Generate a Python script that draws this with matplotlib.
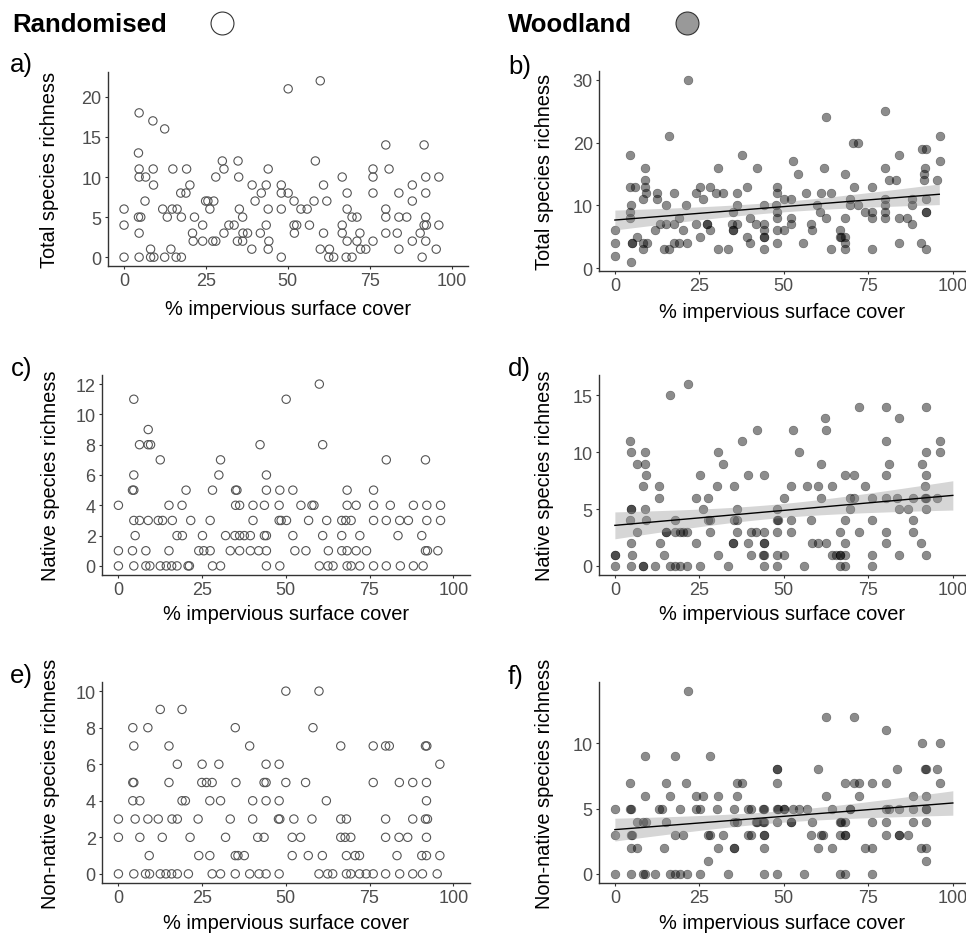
import numpy as np
import matplotlib
matplotlib.use("Agg")
import matplotlib.pyplot as plt
from matplotlib.lines import Line2D

plt.rcParams['font.family'] = ['Liberation Sans', 'DejaVu Sans']

# (x = % impervious surface cover, y = richness)
total_rand = [(0,6),(0,4),(0,0),(4.6,18),(4.4,13),(4.6,11),(4.6,10),(6.6,10),(4.4,5),(5.1,5),(4.6,3),(4.6,0),(6.4,7),(8.8,17),(8.9,11),(9,9),(8.1,1),(8.1,0),(9.1,0),(12.4,16),(11.8,6),(13.2,5),(12.4,0),(14.3,1),(14.9,11),(14.7,6),(16.2,6),(15.9,0),(17.5,0),(17.5,5),(17.3,8),(19.1,11),(18.9,8),(20.1,9),(21.5,5),(20.9,3),(21.1,2),(24,4),(24,2),(24.9,7),(25.6,7),(26.2,6),(27.4,7),(28,10),(27.1,2),(28,2),(30,12),(30.5,11),(30.5,3),(32,4),(33.6,4),(34.8,12),(35,10),(35.2,6),(36.2,5),(36.3,3),(37.7,3),(34.6,2),(36.2,2),(39.1,9),(40,7),(39,1),(41.9,8),(41.6,3),(43.4,9),(43.4,4),(44,11),(44,6),(44.2,2),(44,1),(48,9),(48,8),(50.1,8),(48,6),(48,0),(50.1,21),(51.9,7),(51.9,4),(52.7,4),(52,3),(54,6),(55.9,6),(56.6,4),(58,7),(58.4,12),(59.9,22),(59.9,1),(60.9,9),(60.9,3),(61.9,7),(62.7,1),(62.5,0),(64,0),(66.6,10),(66.6,4),(66.6,3),(68.1,8),(68.1,6),(68.1,2),(67.8,0),(69.6,0),(69.6,5),(71.1,5),(71.1,2),(72,3),(72.2,1),(73.8,1),(76,11),(76,10),(76,8),(76,2),(79.9,14),(79.9,6),(79.9,5),(79.9,3),(80.9,11),(83.9,8),(83.9,5),(86.3,5),(83.4,3),(83.9,1),(88,9),(88,7),(88,2),(90.4,3),(91,0),(91.6,14),(92.1,10),(92.1,8),(92.1,5),(91.6,4),(92.3,4),(92.1,2),(95.3,1),(96.1,10),(96.1,4)]

total_wood = [(0,6),(0,4),(0,2),(4.4,18),(4.6,13),(6.1,13),(4.8,10),(4.4,9),(4.6,8),(5,4),(5,4),(4.8,1),(6.4,5),(8.9,16),(8.9,14),(8.9,13),(9.2,12),(8.2,11),(8.2,3),(9.4,4),(8.4,4),(12.6,12),(12.6,11),(11.9,6),(13.4,7),(15,10),(16.1,21),(14.5,3),(16.1,3),(15.1,7),(17.6,12),(17.6,4),(19.1,4),(19.1,8),(20.1,6),(17.6,7),(21,10),(21.6,30),(21.2,4),(23.9,12),(25.1,13),(26.1,11),(23.9,7),(25.1,5),(28,13),(27.4,7),(27.4,7),(28,6),(30.5,16),(29.9,12),(31.9,12),(30.5,3),(33.4,3),(36.1,12),(36.1,10),(35.1,9),(34.8,7),(36.1,7),(35.1,6),(35.1,6),(37.6,18),(39.2,13),(40.1,8),(39.2,5),(40.1,4),(42.1,16),(41.7,7),(44.1,10),(44.1,7),(44.1,6),(44.1,5),(44.1,5),(44.1,3),(48,13),(48,12),(47.8,10),(48,9),(48,8),(48,6),(48,4),(50,11),(52,11),(52,8),(52,7),(50,6),(52.6,17),(54.3,15),(56.7,12),(55.8,4),(57.9,7),(58.2,6),(59.9,10),(60.6,9),(60.9,12),(61.9,16),(62.4,24),(62.4,8),(63.9,12),(63.9,3),(66.5,6),(66.5,5),(67,5),(68,15),(68,8),(68,5),(68,4),(68,3),(69.5,11),(69.5,10),(70.7,13),(70.5,20),(71.9,20),(71.9,10),(73.9,9),(76,13),(76,9),(76,8),(76,3),(80,25),(80,16),(80,11),(80,10),(80,9),(80,8),(81,14),(83.3,14),(84,18),(84,8),(84,4),(86.5,8),(88,7),(88,11),(88,10),(90.5,4),(90.8,19),(92.1,19),(91.9,16),(91.6,15),(91.6,14),(92.1,11),(92.1,9),(92.1,9),(92.1,3),(95.3,14),(96.1,21),(96.1,17)]

native_rand = [(0,4),(0,1),(0,0),(4.6,11),(4.6,6),(4.2,5),(4.6,5),(4.6,3),(6.3,3),(5,2),(4.2,1),(4.6,0),(6.3,8),(8.9,9),(8.9,8),(9.6,8),(8.9,3),(8.2,1),(8.2,0),(9.4,0),(12.5,7),(11.9,3),(13.2,3),(12.5,0),(15.1,4),(16.1,3),(15.1,1),(14.3,0),(15.9,0),(17.5,0),(17.5,2),(19.1,2),(19,4),(20.2,5),(21.6,3),(20.8,0),(21.2,0),(25.1,2),(24,1),(25.5,1),(27.4,1),(27.4,3),(28.1,5),(28.1,0),(30.5,0),(30,6),(30.5,7),(32,2),(33.4,1),(35,5),(35.4,5),(35,4),(36.2,4),(34.8,2),(36.2,2),(37.6,2),(39.4,2),(36.2,1),(40.2,4),(40.2,3),(39.4,1),(41.9,1),(42.3,8),(43.6,4),(43.6,2),(44.2,2),(44.2,1),(44.2,6),(44.2,5),(44.2,0),(48.2,5),(48,4),(48,3),(48.6,3),(50.2,3),(48.2,0),(50.1,11),(52.1,5),(52.1,2),(52.7,1),(54.5,4),(56,1),(56.8,3),(57.8,4),(58.4,4),(60,12),(61,8),(61,2),(62.2,3),(62.7,1),(60,0),(62.6,0),(64.1,0),(66.7,3),(67.9,3),(69.5,3),(66.7,2),(66.7,1),(68.3,1),(68.3,5),(68.3,4),(71,4),(71,1),(68.3,0),(69.5,0),(72.1,0),(72.1,2),(74.1,1),(76.2,5),(76.2,4),(76.2,3),(76.2,0),(80,7),(80,3),(80,0),(81.2,4),(83.5,2),(84,3),(86.6,3),(84.2,0),(88.1,4),(88.1,0),(91,0),(90.6,2),(91.7,7),(92.1,4),(92.1,3),(91.7,1),(92.3,1),(95.4,1),(96.2,4),(96.2,3)]

native_wood = [(0,0),(0,1),(0,1),(4.4,11),(4.8,10),(4.8,5),(4.8,5),(4.4,4),(4.8,2),(5.2,1),(4.8,0),(6.5,9),(6.5,3),(8.8,10),(8.8,9),(9.2,8),(8.2,7),(8.8,5),(9.2,4),(8.2,0),(8.2,0),(11.9,0),(13.2,7),(13.2,6),(13.4,2),(14.5,1),(15.1,3),(15.1,3),(16.2,15),(16.2,0),(17.7,0),(19.2,0),(21.3,0),(17.7,4),(17.7,3),(19.2,3),(20.2,3),(21.3,3),(21.6,16),(24,6),(24,2),(25.2,8),(25.2,0),(26.2,5),(27.5,6),(27.5,4),(28.1,4),(28.1,3),(30.6,10),(30.1,7),(32.1,9),(30.6,1),(33.5,0),(35.2,7),(36.2,5),(35.2,4),(36.2,4),(36.2,3),(35,2),(35,2),(37.7,11),(39.3,8),(40.2,3),(41.8,3),(39.3,2),(40.2,1),(42.2,12),(44.2,8),(44.2,3),(44.2,2),(44.2,2),(43.7,1),(44.2,1),(44.2,0),(47.9,5),(47.9,4),(48.2,4),(47.9,3),(47.9,1),(50.1,1),(47.9,0),(50.1,6),(52.1,7),(52.1,4),(52.1,3),(52.7,12),(54.4,10),(56,0),(56.9,7),(58.1,4),(58.4,2),(60.1,2),(62.6,2),(60.1,7),(61.1,9),(61.1,6),(62.2,13),(62.6,12),(64.2,7),(64.2,1),(65.5,1),(66.7,1),(66.7,1),(66.7,3),(66.7,0),(68.2,0),(68.2,8),(68.2,4),(68.2,2),(68.2,1),(69.7,6),(70.9,6),(69.7,5),(70.9,8),(72.1,14),(72.1,3),(74.1,7),(76.2,6),(76.2,4),(76.2,1),(76.2,0),(80.1,14),(80.1,11),(80.1,8),(80.1,6),(80.1,3),(80.1,2),(81.1,9),(83.4,6),(84.1,13),(84.1,5),(84.1,1),(86.6,5),(88.1,6),(88.1,4),(88.1,3),(90.6,2),(90.8,9),(92.2,14),(92.2,10),(92.2,8),(91.7,7),(92.2,6),(91.7,6),(92.2,5),(92.2,1),(95.3,6),(96.1,11),(96.1,10)]

nonnative_rand = [(0,3),(0,2),(0,0),(4.3,8),(4.6,7),(4.3,5),(4.6,5),(4.3,4),(6.4,4),(5,3),(6.4,2),(4.6,0),(8.8,8),(8.8,3),(9.2,1),(8.1,0),(9.3,0),(12.5,9),(11.9,3),(13.1,2),(12.5,0),(15.1,7),(15.1,5),(16,3),(17.6,3),(17.6,6),(14.2,0),(15.9,0),(17.6,0),(19,9),(19,4),(20,4),(21.4,2),(20.9,0),(23.8,3),(24,1),(25,6),(24.9,5),(26.3,5),(28,5),(27.3,4),(27.3,1),(28,0),(30.5,0),(30,6),(30.5,4),(32,2),(33.4,3),(34.9,8),(35.1,5),(34.9,1),(35.7,1),(37.6,1),(34.9,0),(39.2,7),(40.1,4),(40.1,3),(39.2,0),(42,0),(44.1,0),(41.6,2),(43.5,2),(43.5,5),(44.1,5),(44.1,6),(44.1,4),(48,6),(48,4),(47.8,3),(48.2,3),(48,0),(50,10),(50,5),(52.4,3),(51.9,2),(54.4,2),(51.9,1),(55.9,5),(56.7,1),(57.8,3),(58.1,8),(59.9,10),(60.9,1),(62.1,4),(59.9,0),(62.5,0),(64,0),(66.4,7),(66.4,3),(68.1,3),(66.4,2),(67.7,2),(69.4,2),(68.1,1),(70.7,1),(72,1),(68.1,0),(69.4,0),(72,0),(74,0),(76.1,7),(76.1,5),(76.1,0),(79.8,7),(80.9,7),(79.8,3),(79.8,2),(79.8,0),(83.9,5),(83.8,2),(86.4,2),(83.2,1),(84,0),(87.9,5),(87.9,3),(87.9,0),(90.8,0),(91.7,7),(92.1,7),(92,5),(92,4),(91.7,3),(92.3,3),(92,2),(90.6,1),(92,1),(95.2,0),(96,6),(96,1)]

nonnative_wood = [(0,5),(0,3),(0,0),(4.4,7),(4.4,5),(4.8,5),(4.8,3),(5.2,3),(4.8,2),(6.5,2),(6.5,4),(4.8,0),(8.8,9),(8.8,6),(8.2,4),(9.2,4),(8.2,0),(8.8,0),(11.9,0),(13.2,5),(13.8,5),(14.5,2),(15.1,7),(15.1,4),(16.2,6),(16.2,0),(17.7,0),(19.2,0),(21.3,0),(17.7,9),(17.7,3),(20.2,3),(19.2,5),(21.1,7),(21.6,14),(24,6),(26.2,6),(24,5),(25.2,5),(25.2,0),(27.5,1),(27.5,3),(28.1,3),(28.1,9),(30.6,6),(30.1,5),(30.6,2),(32.1,3),(33.5,0),(35.2,5),(35.2,4),(36.2,4),(35.2,2),(35.2,2),(36.2,7),(37.7,7),(36.2,6),(39.3,5),(40.2,5),(39.3,3),(40.2,3),(41.8,4),(42.2,4),(43.7,5),(44.2,5),(43.7,4),(44.2,4),(44.2,3),(44.2,3),(44.2,2),(44.2,0),(47.9,8),(47.9,8),(47.9,7),(47.9,5),(48.2,5),(47.9,4),(47.9,0),(50.1,5),(50.1,5),(52.1,4),(52.1,4),(52.7,5),(54.4,5),(56,0),(56.9,5),(58.1,3),(58.4,4),(60.1,8),(60.1,2),(61.1,3),(61.6,3),(62.6,12),(62.6,6),(64.2,5),(64.2,2),(66.7,4),(67,4),(66.7,3),(66.7,0),(68.2,0),(68.2,7),(68.2,4),(68.2,3),(68.2,3),(69.7,5),(69.7,5),(70.9,12),(70.9,7),(72.1,7),(72.1,6),(74.1,2),(76.2,2),(76.2,7),(76.2,4),(76.2,0),(80.1,11),(80.1,7),(80.1,5),(81.1,5),(80.1,4),(80.1,3),(83.4,8),(84.1,5),(84.1,3),(84.1,3),(86.6,3),(88.1,6),(88.1,5),(88.1,4),(90.8,10),(90.6,2),(92.2,2),(91.7,8),(92.2,8),(92.2,6),(92.2,5),(92.2,5),(92.2,4),(92.2,1),(95.3,8),(96.1,10),(96.1,7)]

ylabels = ["Total species richness", "Native species richness", "Non-native species richness"]
xlabel = "% impervious surface cover"
panel_tags = [["a)", "b)"], ["c)", "d)"], ["e)", "f)"]]
xticks = [0, 25, 50, 75, 100]
yticks = [[0, 5, 10, 15, 20], [0, 10, 20, 30],
          [0, 2, 4, 6, 8, 10, 12], [0, 5, 10, 15],
          [0, 2, 4, 6, 8, 10], [0, 5, 10]]

W, H = 966, 937
fig = plt.figure(figsize=(W / 100, H / 100), dpi=100)

def px(l, t, r, b):
    return [l / W, 1 - b / H, (r - l) / W, (b - t) / H]

# axes boxes in pixels: left, top, right, bottom
boxes = [(108, 73, 468, 267), (599, 72, 966, 272),
         (102, 376, 470, 576), (599, 376, 966, 576),
         (102, 683, 470, 884), (599, 683, 966, 884)]
ylims = [(-1.1, 23.1), (-0.45, 31.4), (-0.6, 12.6), (-0.8, 16.8), (-0.5, 10.5), (-0.7, 14.7)]
xlims = [(-4.9, 105), (-4.7, 103.9)]
xlab_y = [310, 312, 615, 615, 924, 924]
ylab_x = [50, 545]
tag_pos = [[(10, 72), (508, 74)], [(11, 376), (508, 376)], [(10, 683), (508, 684)]]
fit_end = [96, 100, 100]

series = [(total_rand, total_wood), (native_rand, native_wood), (nonnative_rand, nonnative_wood)]


def lm_band(x, y, xmax):
    n = len(x)
    slope, icpt = np.polyfit(x, y, 1)
    res = y - (icpt + slope * x)
    s2 = np.sum(res ** 2) / (n - 2)
    sxx = np.sum((x - x.mean()) ** 2)
    xg = np.linspace(x.min(), xmax, 100)
    yg = icpt + slope * xg
    se = np.sqrt(s2 * (1 / n + (xg - x.mean()) ** 2 / sxx))
    return xg, yg, yg - 1.976 * se, yg + 1.976 * se


for row in range(3):
    for col in range(2):
        k = row * 2 + col
        l, t, r, b = boxes[k]
        ax = fig.add_axes(px(l, t, r, b))
        pts = np.array(series[row][col], dtype=float)
        x, y = pts[:, 0], pts[:, 1]
        if col == 0:
            ax.scatter(x, y, s=36, facecolors='none', edgecolors='#555555', linewidths=0.8, zorder=3)
        else:
            ax.scatter(x, y, s=40, c='black', alpha=0.45, linewidths=0.4, edgecolors='black', zorder=3)
            xg, yg, lo, hi = lm_band(x, y, fit_end[row])
            ax.fill_between(xg, lo, hi, color='#999999', alpha=0.4, linewidth=0, zorder=4)
            ax.plot(xg, yg, color='black', lw=1.0, zorder=5)
        ax.set_xlim(*xlims[col])
        ax.set_ylim(*ylims[k])
        ax.set_xticks(xticks)
        ax.set_yticks(yticks[k])
        for s in ['top', 'right']:
            ax.spines[s].set_visible(False)
        for s in ['left', 'bottom']:
            ax.spines[s].set_color('#333333')
            ax.spines[s].set_linewidth(1.0)
        ax.tick_params(length=2.5, width=0.8, color='#333333', labelcolor='#4d4d4d',
                       labelsize=13, pad=2)
        ax.set_xlabel(xlabel, fontsize=14.4, va='center')
        ax.xaxis.set_label_coords(0.5, (b - xlab_y[k]) / (b - t))
        ax.set_ylabel(ylabels[row], fontsize=14.4, va='center')
        ax.yaxis.set_label_coords((ylab_x[col] - l) / (r - l), 0.5)
        tx, ty = tag_pos[row][col]
        fig.text(tx / W, 1 - ty / H, panel_tags[row][col], fontsize=18.5, va='baseline')

# column headers
fig.text(12 / W, 1 - 25 / H, "Randomised", fontsize=18.5, fontweight='bold', va='center')
fig.text(508 / W, 1 - 25 / H, "Woodland", fontsize=18.5, fontweight='bold', va='center')
fig.add_artist(Line2D([222 / W], [1 - 24 / H], transform=fig.transFigure, marker='o',
                      markersize=16.5, mfc='white', mec='#333333', mew=0.8, ls='none'))
fig.add_artist(Line2D([687 / W], [1 - 24 / H], transform=fig.transFigure, marker='o',
                      markersize=16.5, mfc='#999999', mec='#333333', mew=0.8, ls='none'))

fig.savefig("out.png", dpi=100)
